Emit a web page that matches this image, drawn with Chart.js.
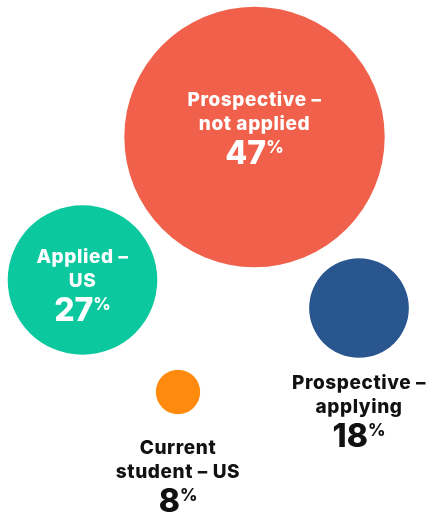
<!DOCTYPE html>
<html>
<head>
<meta charset="utf-8">
<script src="https://cdn.jsdelivr.net/npm/chart.js@4.4.1/dist/chart.umd.min.js"></script>
<style>
	html, body { margin: 0; padding: 0; background: #fff; }
	#wrap { width: 427px; height: 517px; position: relative; }
</style>
</head>
<body>
<div id="wrap"><canvas id="chart"></canvas></div>
<script>
// data
const categories = ['Prospective – not applied', 'Applied – US', 'Prospective – applying', 'Current student – US'];
const labelLines = [['Prospective –', 'not applied'], ['Applied –', 'US'], ['Prospective –', 'applying'], ['Current', 'student – US']];
const shares = [47, 27, 18, 8];
const bubbleX = [254.5, 82.5, 359, 178];
const bubbleY = [137, 280, 308, 392];
const colors = ['#F0604A', '#0CC89E', '#29568F', '#FF8A0D'];

const radiusPerPoint = 2.77;
// where the text goes: inside the bubble or under it
const labelInside = [true, true, false, false];
const labelStart = [-37, -23, 75, 56];

const bubbleLabels = {
	id: 'bubbleLabels',
	afterDatasetsDraw(chart) {
		const ctx = chart.ctx;
		const meta = chart.getDatasetMeta(0);
		meta.data.forEach((pt, i) => {
			const inside = labelInside[i];
			const color = inside ? '#ffffff' : '#111111';
			let y = pt.y + labelStart[i];
			ctx.save();
			ctx.fillStyle = color;
			ctx.textAlign = 'center';
			ctx.textBaseline = 'middle';
			ctx.font = '800 19px Inter';
			ctx.letterSpacing = '0.6px';
			labelLines[i].forEach((line) => {
				ctx.fillText(line, pt.x, y);
				y += 24;
			});
			y += 6;
			// big number with small raised %
			ctx.letterSpacing = '0px';
			const num = String(shares[i]);
			ctx.font = '800 32px Inter';
			const numW = ctx.measureText(num).width;
			ctx.font = '800 17px Inter';
			const pctW = ctx.measureText('%').width;
			const startX = pt.x - (numW + pctW) / 2;
			ctx.textAlign = 'left';
			ctx.font = '800 32px Inter';
			ctx.fillText(num, startX, y);
			ctx.font = '800 17px Inter';
			ctx.fillText('%', startX + numW, y - 6);
			ctx.restore();
		});
	}
};

const points = shares.map((v, i) => ({ x: bubbleX[i], y: bubbleY[i], r: v * radiusPerPoint }));

new Chart(document.getElementById('chart'), {
	type: 'bubble',
	data: {
		labels: categories,
		datasets: [{
			data: points,
			backgroundColor: colors,
			borderWidth: 0,
			hoverBorderWidth: 0,
			clip: false
		}]
	},
	options: {
		responsive: true,
		maintainAspectRatio: false,
		animation: false,
		layout: { padding: 0, autoPadding: false },
		plugins: { legend: { display: false }, tooltip: { enabled: false } },
		scales: {
			x: { type: 'linear', display: false, min: 0, max: 427 },
			y: { type: 'linear', display: false, min: 0, max: 517, reverse: true }
		}
	},
	plugins: [bubbleLabels]
});
</script>
</body>
</html>
